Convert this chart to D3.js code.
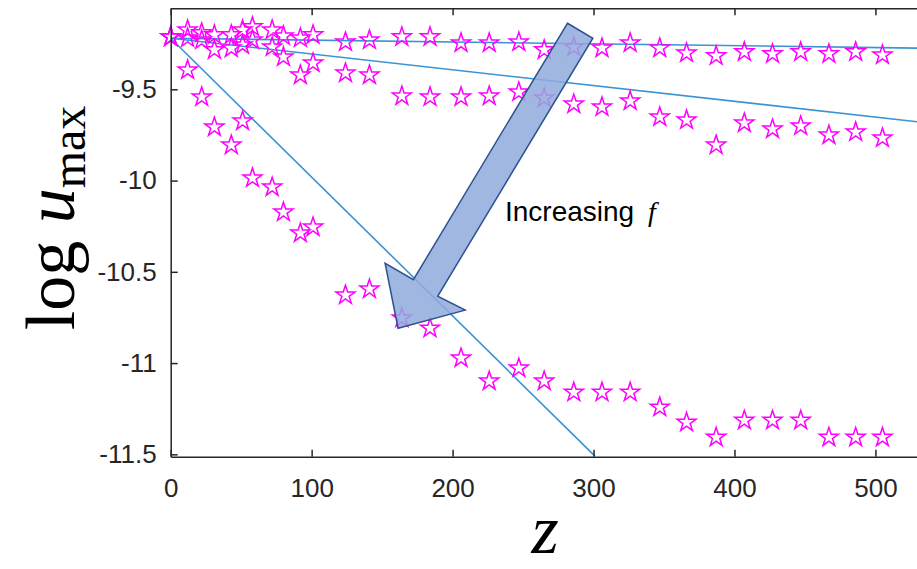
<!DOCTYPE html>
<html>
<head>
<meta charset="utf-8">
<script src="https://cdn.jsdelivr.net/npm/d3@7"></script>
<style>
    body { margin: 0; background: #fff; }
    .tick text { font-family: "Liberation Sans", Arial, sans-serif; font-size: 26px; fill: #262626; }
</style>
</head>
<body>
<div class="chart"></div>
<script>
// Sample positions along z (shared by the three runs)
var zValues = [0, 12, 22, 31, 43, 51, 58, 72, 80, 92, 101, 124, 141, 164, 184, 206,
    226, 247, 265, 286, 306, 326, 347, 366, 387, 407, 427, 447, 467, 486, 505];

// log u_max for the lowest, middle and highest f
var lowF = [-9.213, -9.175, -9.191, -9.202, -9.202, -9.175, -9.158, -9.175, -9.208, -9.219, -9.202,
    -9.241, -9.230, -9.213, -9.213, -9.246, -9.246, -9.241, -9.284, -9.268, -9.274, -9.246,
    -9.274, -9.301, -9.317, -9.295, -9.306, -9.295, -9.306, -9.295, -9.312];
var midF = [-9.213, -9.219, -9.230, -9.284, -9.274, -9.257, -9.230, -9.268, -9.323, -9.422, -9.356,
    -9.411, -9.422, -9.537, -9.542, -9.542, -9.537, -9.515, -9.548, -9.581, -9.597, -9.564,
    -9.652, -9.668, -9.806, -9.685, -9.718, -9.701, -9.751, -9.734, -9.767];
var highF = [-9.213, -9.394, -9.542, -9.707, -9.806, -9.674, -9.986, -10.036, -10.173, -10.288, -10.255,
    -10.628, -10.595, -10.754, -10.809, -10.973, -11.099, -11.028, -11.099, -11.160, -11.160, -11.160,
    -11.242, -11.325, -11.407, -11.314, -11.314, -11.314, -11.407, -11.407, -11.407];

// Fitted lines: end points [z0, v0, z1, v1]
var fitLines = [
    [0, -9.22, 530, -9.274],
    [0, -9.22, 530, -9.678],
    [0, -9.22, 301, -11.51]
];

// Axis ticks
var xTicks = [0, 100, 200, 300, 400, 500];
var yTicks = [-9.5, -10, -10.5, -11, -11.5];

// Annotation arrow outline, in data units (z, log u)
var arrowZ = [281.5, 299.5, 189.4, 208.9, 161.3, 152.1, 172.2];
var arrowV = [-9.138, -9.220, -10.634, -10.710, -10.809, -10.453, -10.543];

// SVG area
var svgWidth = 917;
var svgHeight = 569;

var chartMargin = {
    top: 8.3,
    left: 170.7,
    bottom: 112.3
};

var height = svgHeight - chartMargin.top - chartMargin.bottom;
var width = 747;

var svg = d3
    .select('.chart')
    .append('svg')
    .attr('width', svgWidth)
    .attr('height', svgHeight);

var chart = svg.append("g")
    .attr("transform", `translate(${chartMargin.left}, ${chartMargin.top})`);

// Scales
var xLinearScale = d3.scaleLinear().domain([0, 530]).range([0, width]);
var yLinearScale = d3.scaleLinear().domain([-11.513, -9.056]).range([height, 0]);

// Clip for the fitted lines
svg.append("defs").append("clipPath")
    .attr("id", "plotClip")
    .append("rect")
    .attr("width", width)
    .attr("height", height);

// Fitted lines
chart.append("g")
    .attr("clip-path", "url(#plotClip)")
    .selectAll("line")
    .data(fitLines)
    .enter()
    .append("line")
    .attr("x1", function(d) { return xLinearScale(d[0]); })
    .attr("y1", function(d) { return yLinearScale(d[1]); })
    .attr("x2", function(d) { return xLinearScale(d[2]); })
    .attr("y2", function(d) { return yLinearScale(d[3]); })
    .attr("stroke", "#3a93d3")
    .attr("stroke-width", 1.6);

// Star markers for every run
var star = d3.symbol().type(d3.symbolStar).size(112);
[lowF, midF, highF].forEach(function(series) {
    chart.append("g")
        .selectAll("path")
        .data(series)
        .enter()
        .append("path")
        .attr("d", star)
        .attr("transform", function(d, i) {
            return "translate(" + xLinearScale(zValues[i]) + "," + yLinearScale(d) + ")";
        })
        .attr("fill", "none")
        .attr("stroke", "#ff00ff")
        .attr("stroke-width", 1.5);
});

// Axes (box style, ticks inside)
var bottomAxis = d3.axisBottom(xLinearScale).tickValues(xTicks).tickSizeInner(-7).tickSizeOuter(0).tickPadding(22);
var topAxis = d3.axisTop(xLinearScale).tickValues(xTicks).tickSizeInner(-7).tickSizeOuter(0).tickFormat("");
var leftAxis = d3.axisLeft(yLinearScale).tickValues(yTicks).tickSizeInner(-7).tickSizeOuter(0).tickPadding(14)
    .tickFormat(function(d) { return String(d); });

chart.append("g")
    .attr('transform', `translate(0, ${height})`)
    .call(bottomAxis);
chart.append("g").call(topAxis);
chart.append("g").call(leftAxis);

chart.selectAll(".domain, .tick line")
    .attr("stroke", "#262626")
    .attr("stroke-width", 1.5);

// Arrow annotation
var arrowPts = arrowZ.map(function(z, i) {
    return [xLinearScale(z), yLinearScale(arrowV[i])];
});
chart.append("path")
    .attr("d", d3.line()(arrowPts) + "Z")
    .attr("fill", "#8faadc")
    .attr("fill-opacity", 0.85)
    .attr("stroke", "#2f528f")
    .attr("stroke-width", 1.5);

// Annotation text
var note = svg.append("text")
    .attr("x", 505)
    .attr("y", 221)
    .style("font-family", "'Liberation Sans', Arial, sans-serif")
    .style("font-size", "28px")
    .style("fill", "#000");
note.append("tspan").text("Increasing ");
note.append("tspan")
    .attr("dx", 6)
    .style("font-family", "'Liberation Serif', serif")
    .style("font-style", "italic")
    .text("f");

// y-axis label
var yLabel = svg.append("text")
    .attr("transform", "translate(74, 218) rotate(-90)")
    .style("text-anchor", "middle")
    .style("font-family", "'Liberation Serif', 'DejaVu Serif', serif")
    .style("font-size", "70px")
    .style("fill", "#000");
yLabel.append("tspan").text("log ");
yLabel.append("tspan").style("font-style", "italic").text("u");
yLabel.append("tspan").attr("dy", 11).style("font-size", "48px").text("max");

// x-axis label
svg.append("text")
    .attr("x", 545)
    .attr("y", 553)
    .style("text-anchor", "middle")
    .style("font-family", "'Liberation Serif', 'DejaVu Serif', serif")
    .style("font-style", "italic")
    .style("font-size", "70px")
    .style("fill", "#000")
    .text("z");
</script>
</body>
</html>
